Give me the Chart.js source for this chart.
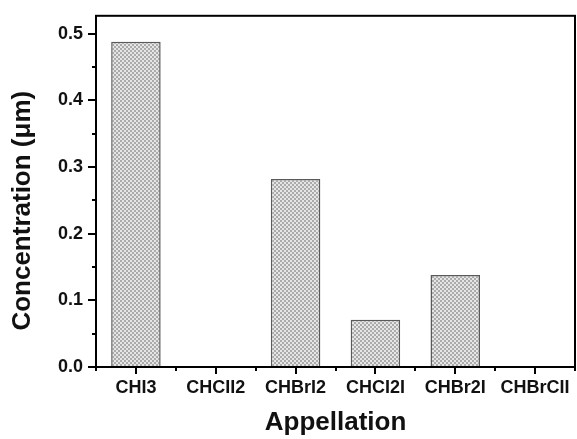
<!DOCTYPE html>
<html>
<head>
<meta charset="utf-8">
<script src="https://cdn.jsdelivr.net/npm/chart.js@4/dist/chart.umd.min.js"></script>
<style>
    html, body { margin: 0; padding: 0; background: #fff; }
    #wrap { width: 577px; height: 439px; }
</style>
</head>
<body>
<div id="wrap"><canvas id="chart"></canvas></div>
<script>
(function () {
    "use strict";

    // Data
    const categories = ["CHI3", "CHCII2", "CHBrI2", "CHCI2I", "CHBr2I", "CHBrCII"];
    const concentration = [0.488, 0, 0.282, 0.071, 0.138, 0];
    const yTickValues = [0, 0.1, 0.2, 0.3, 0.4, 0.5];
    const yMinorValues = [0.05, 0.15, 0.25, 0.35, 0.45];
    const yTitle = "Concentration (μm)";

    // Grey checker fill like the original
    function makePattern() {
        const c = document.createElement("canvas");
        c.width = 4;
        c.height = 4;
        const g = c.getContext("2d");
        g.fillStyle = "#e6e6e6";
        g.fillRect(0, 0, 4, 4);
        g.fillStyle = "#ababab";
        g.fillRect(0, 0, 2, 2);
        g.fillRect(2, 2, 2, 2);
        return g.createPattern(c, "repeat");
    }

    // Frame, minor ticks and the y title (sits a bit below centre in the original)
    const frame = {
        id: "frame",
        afterDraw(chart) {
            const ctx = chart.ctx;
            const a = chart.chartArea;
            const x = chart.scales.x;
            const y = chart.scales.y;
            ctx.save();
            ctx.strokeStyle = "#000";
            ctx.lineWidth = 2;
            ctx.strokeRect(a.left, a.top, a.right - a.left, a.bottom - a.top);

            ctx.beginPath();
            yMinorValues.forEach((v) => {
                const py = Math.round(y.getPixelForValue(v));
                ctx.moveTo(a.left, py);
                ctx.lineTo(a.left - 4, py);
            });
            const step = x.getPixelForValue(1) - x.getPixelForValue(0);
            for (let i = 0; i <= categories.length; i++) {
                const px = Math.round(x.getPixelForValue(0) - step / 2 + i * step);
                ctx.moveTo(px, a.bottom);
                ctx.lineTo(px, a.bottom + 4);
            }
            ctx.stroke();

            ctx.translate(23, a.top + (a.bottom - a.top) * 0.555);
            ctx.rotate(-Math.PI / 2);
            ctx.fillStyle = "#111";
            ctx.font = "bold 26px 'Liberation Sans'";
            ctx.textAlign = "center";
            ctx.textBaseline = "middle";
            ctx.fillText(yTitle, 0, 0);
            ctx.restore();
        },
    };

    const ctx = document.getElementById("chart").getContext("2d");

    new Chart(ctx, {
        type: "bar",
        data: {
            labels: categories,
            datasets: [
                {
                    data: concentration,
                    backgroundColor: makePattern(),
                    borderColor: "#5a5a5a",
                    borderWidth: 1.5,
                    categoryPercentage: 1,
                    barPercentage: 0.62,
                },
            ],
        },
        options: {
            responsive: true,
            maintainAspectRatio: false,
            animation: false,
            layout: {
                padding: { left: 0, top: 12, right: 2, bottom: 0 },
            },
            plugins: {
                legend: { display: false },
                tooltip: { enabled: false },
            },
            scales: {
                x: {
                    offset: true,
                    grid: {
                        offset: false,
                        drawOnChartArea: false,
                        drawTicks: true,
                        tickLength: 7,
                        color: "#000",
                        lineWidth: 2,
                    },
                    border: { color: "#000", width: 2 },
                    ticks: {
                        color: "#111",
                        padding: 3,
                        maxRotation: 0,
                        autoSkip: false,
                        font: { family: "Liberation Sans", size: 18, weight: "bold" },
                    },
                    title: {
                        display: true,
                        text: "Appellation",
                        color: "#111",
                        align: "center",
                        padding: { top: 0, bottom: 1 },
                        font: { family: "Liberation Sans", size: 26, weight: "bold", lineHeight: 1.2 },
                    },
                    afterFit(scale) {
                        scale.height = 72;
                    },
                },
                y: {
                    min: 0,
                    max: 0.527,
                    afterBuildTicks(scale) {
                        scale.ticks = yTickValues.map((v) => ({ value: v }));
                    },
                    grid: {
                        drawOnChartArea: false,
                        drawTicks: true,
                        tickLength: 8,
                        color: "#000",
                        lineWidth: 2,
                    },
                    border: { color: "#000", width: 2 },
                    ticks: {
                        color: "#111",
                        padding: 5,
                        callback: (v) => Number(v).toFixed(1),
                        font: { family: "Liberation Sans", size: 18, weight: "bold" },
                    },
                    afterFit(scale) {
                        scale.width = 96;
                    },
                },
            },
        },
        plugins: [frame],
    });
})();
</script>
</body>
</html>
